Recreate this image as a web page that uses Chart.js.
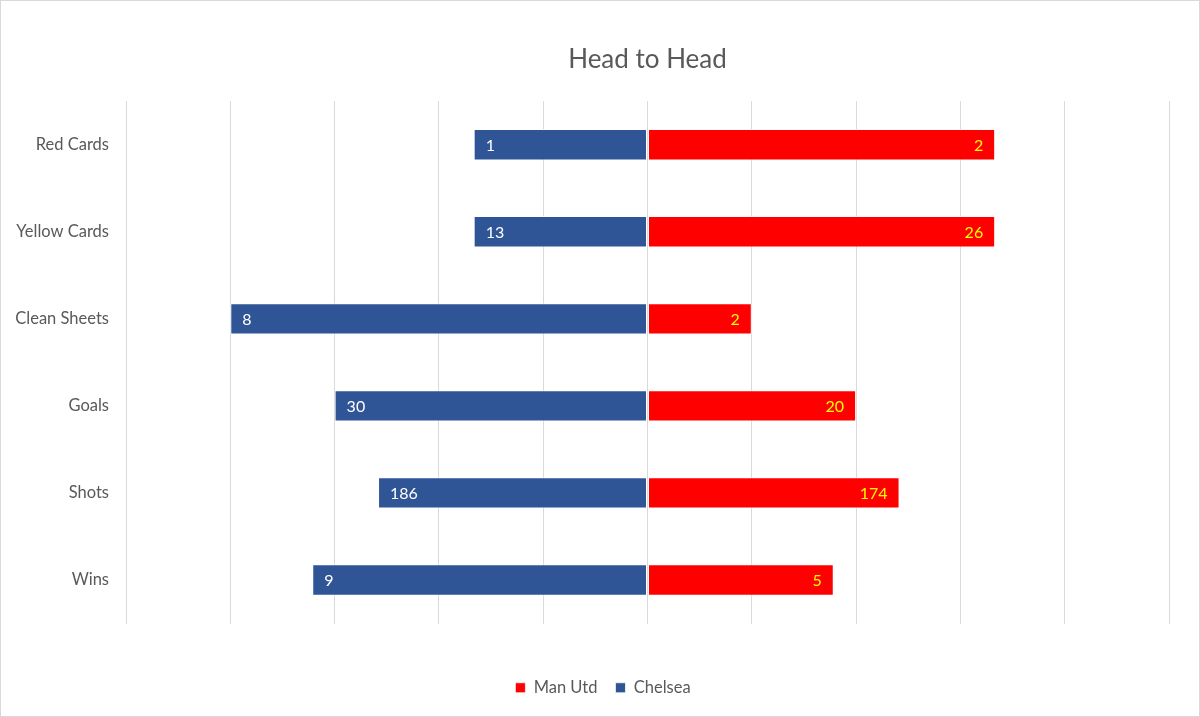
<!DOCTYPE html>
<html>
<head>
<meta charset="utf-8">
<script src="https://cdn.jsdelivr.net/npm/chart.js@4.4.0/dist/chart.umd.min.js"></script>
<style>
  html, body { margin: 0; padding: 0; background: #fff; }
  #wrap { width: 1200px; height: 717px; box-sizing: border-box; border: 1px solid #d9d9d9; position: relative; }
</style>
</head>
<body>
<div id="wrap"><canvas id="h2h"></canvas></div>
<script>
var categories = ['Red Cards', 'Yellow Cards', 'Clean Sheets', 'Goals', 'Shots', 'Wins'];
var manUtd = [2, 26, 2, 20, 174, 5];
var chelsea = [1, 13, 8, 30, 186, 9];

// each row is drawn as share of the row total (Excel normalised butterfly)
var manShare = manUtd.map(function(v, i){ return v / (v + chelsea[i]); });
var cheShare = chelsea.map(function(v, i){ return -v / (v + manUtd[i]); });

var raw = [manUtd, chelsea];

var valueLabels = {
  id: 'valueLabels',
  afterLayout: function(chart){
    // nudge legend a bit right like the original
    chart.legend.left += 36;
  },
  afterDatasetsDraw: function(chart){
    var ctx = chart.ctx;
    ctx.save();
    ctx.font = '16px Lato';
    ctx.textBaseline = 'middle';
    chart.data.datasets.forEach(function(ds, di){
      var meta = chart.getDatasetMeta(di);
      meta.data.forEach(function(bar, i){
        if (di == 0) {
          ctx.fillStyle = '#FFFF00';
          ctx.textAlign = 'right';
          ctx.fillText(raw[di][i], bar.x - 12, bar.y + 1);
        } else {
          ctx.fillStyle = '#ffffff';
          ctx.textAlign = 'left';
          ctx.fillText(raw[di][i], bar.x + 12, bar.y + 1);
        }
      });
    });
    ctx.restore();
  }
};

var ctx = document.getElementById('h2h').getContext('2d');
var myChart = new Chart(ctx, {
  type: 'bar',
  data: {
    labels: categories,
    datasets: [{
      label: 'Man Utd',
      data: manShare,
      backgroundColor: '#FF0000',
      borderColor: 'rgba(255,255,255,0.7)',
      borderWidth: 1,
      borderSkipped: false,
      categoryPercentage: 1,
      barPercentage: 0.36
    }, {
      label: 'Chelsea',
      data: cheShare,
      backgroundColor: '#2F5597',
      borderColor: 'rgba(255,255,255,0.7)',
      borderWidth: 1,
      borderSkipped: false,
      categoryPercentage: 1,
      barPercentage: 0.36
    }]
  },
  options: {
    indexAxis: 'y',
    responsive: true,
    maintainAspectRatio: false,
    animation: false,
    layout: { padding: { left: 0, right: 30, top: 0, bottom: 10 } },
    scales: {
      x: {
        stacked: true,
        min: -1,
        max: 1,
        ticks: { display: false, stepSize: 0.2 },
        grid: { color: '#d9d9d9', lineWidth: 1, drawTicks: false },
        border: { display: false },
        afterFit: function(axis){ axis.height = 38; }
      },
      y: {
        stacked: true,
        ticks: { color: '#595959', font: { family: 'Lato', size: 16.5 }, padding: 17 },
        grid: { display: false, drawTicks: false },
        border: { display: false },
        afterFit: function(axis){ axis.width = 125; }
      }
    },
    plugins: {
      title: {
        display: true,
        fullSize: false,
        text: 'Head to Head',
        color: '#595959',
        font: { family: 'Lato', size: 26, weight: 'normal' },
        padding: { top: 43, bottom: 26 }
      },
      legend: {
        position: 'bottom',
        labels: {
          color: '#595959',
          font: { family: 'Lato', size: 16.5 },
          boxWidth: 10,
          boxHeight: 10,
          padding: 18
        }
      },
      tooltip: { enabled: false }
    }
  },
  plugins: [valueLabels]
});
</script>
</body>
</html>
